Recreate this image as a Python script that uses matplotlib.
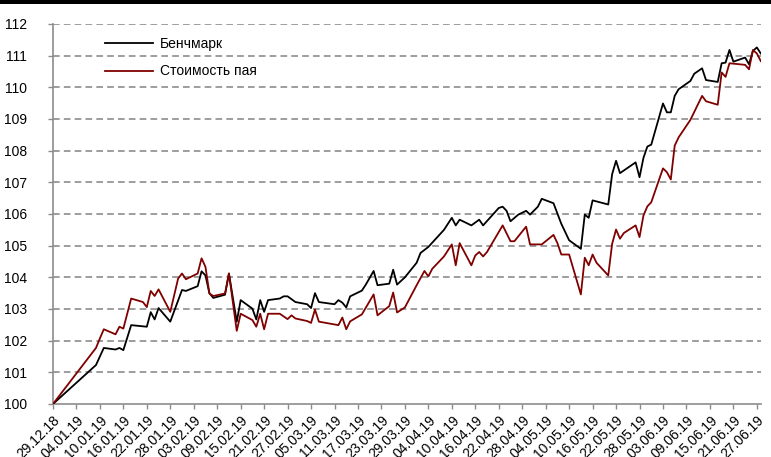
import matplotlib
matplotlib.use("Agg")
import matplotlib.pyplot as plt
import matplotlib.dates as mdates
import pandas as pd

# values
bench_dates = [
    "29.12.18", "09.01.19", "11.01.19", "14.01.19", "15.01.19", "16.01.19",
    "18.01.19", "22.01.19", "23.01.19", "24.01.19", "25.01.19", "28.01.19",
    "31.01.19", "01.02.19", "04.02.19", "05.02.19", "06.02.19", "07.02.19",
    "08.02.19", "11.02.19", "12.02.19", "14.02.19", "15.02.19", "18.02.19",
    "19.02.19", "20.02.19", "21.02.19", "22.02.19", "25.02.19", "26.02.19",
    "27.02.19", "01.03.19", "04.03.19", "05.03.19", "06.03.19", "07.03.19",
    "11.03.19", "12.03.19", "13.03.19", "14.03.19", "15.03.19", "18.03.19",
    "19.03.19", "21.03.19", "22.03.19", "25.03.19", "26.03.19", "27.03.19",
    "29.03.19", "01.04.19", "02.04.19", "04.04.19", "08.04.19", "10.04.19",
    "11.04.19", "12.04.19", "15.04.19", "17.04.19", "18.04.19", "22.04.19",
    "23.04.19", "24.04.19", "25.04.19", "27.04.19", "29.04.19", "30.04.19",
    "02.05.19", "03.05.19", "06.05.19", "08.05.19", "10.05.19", "13.05.19",
    "14.05.19", "15.05.19", "16.05.19", "20.05.19", "21.05.19", "22.05.19",
    "23.05.19", "27.05.19", "28.05.19", "29.05.19", "30.05.19", "31.05.19",
    "03.06.19", "04.06.19", "05.06.19", "06.06.19", "07.06.19", "10.06.19",
    "11.06.19", "13.06.19", "14.06.19", "17.06.19", "18.06.19", "19.06.19",
    "20.06.19", "21.06.19", "24.06.19", "25.06.19", "26.06.19", "27.06.19",
    "28.06.19",
]
bench_values = [
    100.00, 101.23, 101.77, 101.72, 101.77, 101.70,
    102.49, 102.44, 102.90, 102.67, 103.03, 102.60,
    103.60, 103.57, 103.72, 104.19, 104.06, 103.50,
    103.35, 103.45, 104.12, 102.60, 103.28, 103.01,
    102.67, 103.28, 102.91, 103.28, 103.33, 103.40,
    103.40, 103.22, 103.15, 103.03, 103.50, 103.22,
    103.15, 103.28, 103.20, 103.05, 103.40, 103.58,
    103.77, 104.20, 103.75, 103.80, 104.24, 103.77,
    104.00, 104.46, 104.77, 104.96, 105.50, 105.88,
    105.64, 105.82, 105.64, 105.82, 105.64, 106.19,
    106.23, 106.10, 105.77, 105.98, 106.10, 105.98,
    106.23, 106.48, 106.34, 105.69, 105.17, 104.90,
    105.98, 105.88, 106.43, 106.30, 107.26, 107.68,
    107.29, 107.63, 107.16, 107.77, 108.13, 108.19,
    109.49, 109.21, 109.21, 109.73, 109.94, 110.20,
    110.43, 110.60, 110.23, 110.17, 110.76, 110.78,
    111.18, 110.81, 110.94, 110.73, 111.15, 111.26,
    111.07,
]

fund_dates = [
    "29.12.18", "09.01.19", "10.01.19", "11.01.19", "14.01.19", "15.01.19",
    "16.01.19", "18.01.19", "21.01.19", "22.01.19", "23.01.19", "24.01.19",
    "25.01.19", "28.01.19", "30.01.19", "31.01.19", "01.02.19", "04.02.19",
    "05.02.19", "06.02.19", "07.02.19", "08.02.19", "11.02.19", "12.02.19",
    "14.02.19", "15.02.19", "18.02.19", "19.02.19", "20.02.19", "21.02.19",
    "22.02.19", "25.02.19", "27.02.19", "28.02.19", "01.03.19", "04.03.19",
    "05.03.19", "06.03.19", "07.03.19", "12.03.19", "13.03.19", "14.03.19",
    "15.03.19", "18.03.19", "21.03.19", "22.03.19", "25.03.19", "26.03.19",
    "27.03.19", "29.03.19", "01.04.19", "03.04.19", "04.04.19", "05.04.19",
    "08.04.19", "10.04.19", "11.04.19", "12.04.19", "15.04.19", "16.04.19",
    "17.04.19", "18.04.19", "19.04.19", "23.04.19", "25.04.19", "26.04.19",
    "29.04.19", "30.04.19", "03.05.19", "06.05.19", "07.05.19", "08.05.19",
    "10.05.19", "13.05.19", "14.05.19", "15.05.19", "16.05.19", "17.05.19",
    "20.05.19", "21.05.19", "22.05.19", "23.05.19", "24.05.19", "27.05.19",
    "28.05.19", "29.05.19", "30.05.19", "31.05.19", "03.06.19", "04.06.19",
    "05.06.19", "06.06.19", "07.06.19", "10.06.19", "13.06.19", "14.06.19",
    "17.06.19", "18.06.19", "19.06.19", "20.06.19", "24.06.19", "25.06.19",
    "26.06.19", "27.06.19", "28.06.19",
]
fund_values = [
    100.00, 101.77, 102.07, 102.36, 102.20, 102.44,
    102.38, 103.33, 103.22, 103.06, 103.57, 103.41,
    103.62, 102.91, 103.96, 104.12, 103.94, 104.12,
    104.60, 104.33, 103.49, 103.41, 103.49, 104.12,
    102.31, 102.85, 102.65, 102.44, 102.85, 102.36,
    102.85, 102.85, 102.68, 102.80, 102.70, 102.62,
    102.56, 102.98, 102.60, 102.49, 102.73, 102.36,
    102.61, 102.83, 103.46, 102.80, 103.09, 103.52,
    102.89, 103.05, 103.75, 104.20, 104.03, 104.27,
    104.66, 105.04, 104.38, 105.08, 104.38, 104.69,
    104.80, 104.66, 104.80, 105.64, 105.14, 105.14,
    105.60, 105.04, 105.04, 105.34, 105.08, 104.72,
    104.72, 103.46, 104.62, 104.38, 104.72, 104.46,
    104.06, 105.06, 105.51, 105.22, 105.40, 105.64,
    105.27, 105.95, 106.24, 106.37, 107.44, 107.32,
    107.09, 108.16, 108.42, 108.97, 109.73, 109.56,
    109.45, 110.47, 110.33, 110.76, 110.71, 110.57,
    111.18, 111.07, 110.83,
]

tick_start = "29.12.18"
tick_end = "27.06.19"
y_ticks = list(range(100, 113))


def to_dates(values):
    return pd.to_datetime(values, format="%d.%m.%y")


def main():
    plt.rcParams["font.family"] = ["Liberation Sans", "DejaVu Sans"]
    grey = "#8c8c8c"

    fig = plt.figure(figsize=(7.71, 4.57), dpi=100)
    ax = fig.add_axes([0.0687, 0.116, 0.9180, 0.8315])

    # thick bar on top of the picture
    fig.add_artist(plt.Rectangle((0, 1 - 4 / 457), 1, 4 / 457,
                                 transform=fig.transFigure,
                                 color="black", lw=0))

    bench_x = to_dates(bench_dates)
    fund_x = to_dates(fund_dates)
    ax.plot(bench_x, bench_values, color="black", lw=1.3, label="Бенчмарк", zorder=3)
    ax.plot(fund_x, fund_values, color="#800000", lw=1.3, label="Стоимость пая", zorder=4)

    ticks = pd.date_range(to_dates([tick_start])[0], to_dates([tick_end])[0], freq="6D")
    ax.set_xticks(ticks)
    ax.xaxis.set_major_formatter(mdates.DateFormatter("%d.%m.%y"))
    ax.set_xlim(bench_x[0], bench_x[-1])
    ax.set_ylim(100, 112)
    ax.set_yticks(y_ticks)

    for v in y_ticks[1:]:
        ax.axhline(v, color=grey, lw=1.2, ls=(0, (4, 2.5)), zorder=1)

    for side in ("top", "right"):
        ax.spines[side].set_visible(False)
    for side in ("left", "bottom"):
        ax.spines[side].set_color(grey)
        ax.spines[side].set_linewidth(1.2)

    ax.tick_params(axis="both", colors=grey, length=3.5, width=1.0, labelcolor="black",
                   labelsize=10)
    ax.tick_params(axis="y", pad=15)
    ax.tick_params(axis="x", pad=3)
    for lbl in ax.get_xticklabels():
        lbl.set_rotation(45)
        lbl.set_ha("right")
        lbl.set_rotation_mode("anchor")

    ax.legend(loc="upper left", bbox_to_anchor=(0.073, 0.965), frameon=False,
              fontsize=10, handlelength=3.5, handletextpad=0.5, labelspacing=0.95,
              borderpad=0, borderaxespad=0)

    fig.savefig("out.png", dpi=100)


if __name__ == "__main__":
    main()
